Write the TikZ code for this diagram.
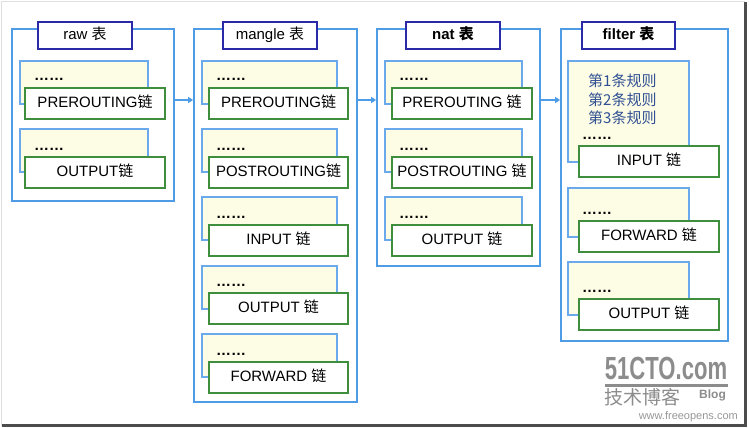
\documentclass[tikz,border=0pt]{standalone}
\usepackage{fontspec}
\setmainfont{Liberation Sans}
\newfontfamily\cjk{Noto Sans CJK SC}
\usetikzlibrary{arrows.meta}
\definecolor{outerblue}{HTML}{4F9CE6}
\definecolor{innerblue}{HTML}{6AAAEC}
\definecolor{titlenavy}{HTML}{2A2AA8}
\definecolor{chaingreen}{HTML}{3E8E3E}
\definecolor{ruleyellow}{HTML}{FDFDE6}
\definecolor{ruletext}{HTML}{2F4F92}
\definecolor{markgray}{HTML}{8C8C8C}
\newcommand\zlian{{\cjk 链}}
\newcommand\zbiao{{\cjk 表}}
% generic rectangle node from corner coordinates
\newcommand\boxnode[7]{%
  \node[#6, minimum width={(#4-#2)*1pt}, minimum height={(#5-#3)*1pt}]
    (#1) at ({(#2+#4)/2},{(#3+#5)/2}) {#7};}
% chain block: name, yellow x1, yellow x2, green x1, green x2, yellow top, yellow bottom, green top, label
\newcommand\chainblk[9]{%
  \boxnode{#1r}{#2}{#6}{#3}{#7}{rulebox}{}%
  \boxnode{#1}{#4}{#8}{#5}{#8+31}{chainbox}{#9}%
  \node[dotstext, anchor=base west] (#1d) at (#2+14,#8-7) {……};}
\begin{document}
\begin{tikzpicture}[x=1pt,y=-1pt,
  outerbox/.style={draw=outerblue, line width=1.7pt, inner sep=0pt},
  titlebox/.style={draw=titlenavy, fill=white, line width=1.3pt, inner sep=0pt,
    font=\fontsize{15}{18}\selectfont, text height=11pt, text depth=3pt},
  rulebox/.style={draw=innerblue, fill=ruleyellow, line width=1.1pt, inner sep=0pt},
  chainbox/.style={draw=chaingreen, fill=white, line width=1.3pt, inner sep=0pt,
    font=\fontsize{15}{18}\selectfont, text height=11pt, text depth=3pt},
  dotstext/.style={inner sep=0pt, font=\bfseries\fontsize{15}{18}\selectfont},
  arr/.style={draw=outerblue, line width=1.4pt, -{Triangle[length=5pt,width=6pt]}},
  wmark/.style={inner sep=0pt, text=markgray}]
\useasboundingbox (0,0) rectangle (749,428);
\fill[white] (0,0) rectangle (749,428);
% screenshot frame
\draw[gray!25, line width=0.8pt] (1,426) -- (1,1) -- (745,1);
\fill[black!70] (743.5,2) rectangle (746.5,426.5);
\fill[black!70] (2,423.5) rectangle (746.5,426.5);

% outer table boxes
\boxnode{raw}{12}{29}{174}{201}{outerbox}{}
\boxnode{mangle}{194}{29}{357}{402}{outerbox}{}
\boxnode{nat}{377}{29}{540}{266}{outerbox}{}
\boxnode{filter}{561}{29}{728}{341}{outerbox}{}

% titles
\boxnode{rawt}{38}{22}{132}{49}{titlebox}{raw \zbiao}
\boxnode{manglet}{223}{22}{317}{49}{titlebox}{mangle \zbiao}
\boxnode{natt}{406}{22}{500}{49}{titlebox}{\textbf{nat} {\cjk\bfseries 表}}
\boxnode{filtert}{582}{22}{675}{49}{titlebox}{\textbf{filter} {\cjk\bfseries 表}}

% raw chains
\chainblk{rawpre}{20}{148}{25}{165}{61}{104}{88}{PREROUTING\zlian}
\chainblk{rawout}{20}{148}{25}{165}{129}{172}{157}{OUTPUT\zlian}

% mangle chains
\chainblk{mpre}{202}{337}{209}{348}{61}{104}{88}{PREROUTING\zlian}
\chainblk{mpost}{202}{337}{209}{348}{129}{172}{157}{POSTROUTING\zlian}
\chainblk{min}{202}{337}{209}{348}{197}{240}{225}{INPUT \zlian}
\chainblk{mout}{202}{337}{209}{348}{266}{309}{293}{OUTPUT \zlian}
\chainblk{mfwd}{202}{337}{209}{348}{334}{377}{362}{FORWARD \zlian}

% nat chains
\chainblk{npre}{385}{522}{392}{532}{61}{104}{88}{PREROUTING \zlian}
\chainblk{npost}{385}{522}{392}{532}{129}{172}{157}{POSTROUTING \zlian}
\chainblk{nout}{385}{522}{392}{532}{197}{240}{225}{OUTPUT \zlian}

% filter chains
\chainblk{fin}{568}{689}{579}{719}{61}{162}{146}{INPUT \zlian}
\chainblk{ffwd}{568}{689}{579}{719}{188}{237}{221}{FORWARD \zlian}
\chainblk{fout}{568}{689}{579}{719}{262}{315}{299}{OUTPUT \zlian}
\node[anchor=north west, inner sep=0pt, align=left, text=ruletext,
  font=\cjk\fontsize{15}{18.5}\selectfont] (rules) at (588,74)
  {第1条规则\\第2条规则\\第3条规则};

% connectors
\coordinate (ay) at (0,100);
\draw[arr] (raw.east |- ay) -- (mangle.west |- ay);
\draw[arr] (mangle.east |- ay) -- (nat.west |- ay);
\draw[arr] (nat.east |- ay) -- (filter.west |- ay);

% watermark
\node[wmark, anchor=center, xscale=0.69, font=\bfseries\fontsize{32}{34}\selectfont] (wm1) at (666,368) {51CTO.com};
\fill[markgray] (605,384) rectangle (728,386.5);
\node[wmark, anchor=west, font=\cjk\fontsize{19}{21}\selectfont] (wm2) at (604,397) {技术博客};
\node[wmark, anchor=west, font=\bfseries\fontsize{12}{14}\selectfont] (wm3) at (699,395) {Blog};
\node[wmark, anchor=east, text=markgray!90, font=\fontsize{11}{13}\selectfont] (wm4) at (738,416.5) {www.freeopens.com};
\end{tikzpicture}
\end{document}
